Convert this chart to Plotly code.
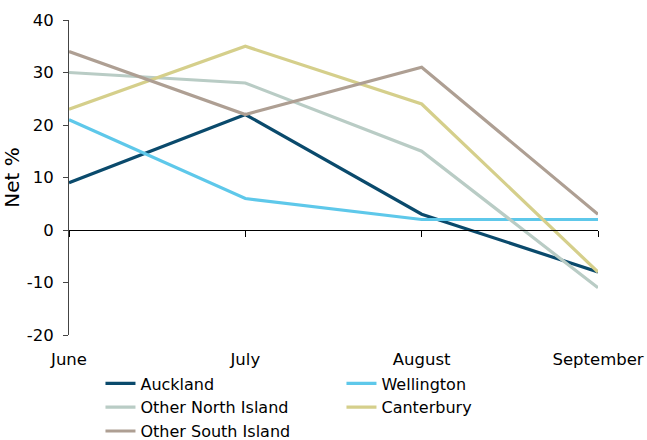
import plotly.graph_objects as go

months = ["June", "July", "August", "September"]
auckland = [9, 22, 3, -8]
wellington = [21, 6, 2, 2]
other_north = [30, 28, 15, -11]
canterbury = [23, 35, 24, -8]
other_south = [34, 22, 31, 3]
y_ticks = [-20, -10, 0, 10, 20, 30, 40]
y_tick_text = ["-20", "-10", "0", "10", "20", "30", "40"]

series = [
    ("Auckland", auckland, "#0a4a6c"),
    ("Wellington", wellington, "#5ec8ea"),
    ("Other North Island", other_north, "#b9ccc5"),
    ("Canterbury", canterbury, "#d5cf8b"),
    ("Other South Island", other_south, "#ae9f93"),
]

xs = list(range(len(months)))
fig = go.Figure()
for name, vals, col in series:
    fig.add_trace(go.Scatter(x=xs, y=vals, mode="lines", name=name,
                             line=dict(color=col, width=3.2)))

FAM = "Verdana, DejaVu Sans, sans-serif"
font = dict(family=FAM, size=16.5, color="#000")
fig.update_layout(
    width=647, height=440,
    margin=dict(l=69, r=49, t=20, b=105, autoexpand=False),
    plot_bgcolor="white", paper_bgcolor="white",
    font=font,
    showlegend=True,
    legend=dict(orientation="h", x=0.0595, xanchor="left", y=-0.1, yanchor="top",
                entrywidth=196, entrywidthmode="pixels",
                font=dict(family=FAM, size=16, color="#000"),
                tracegroupgap=0, itemwidth=30, bgcolor="rgba(0,0,0,0)"),
    xaxis=dict(range=[0, 3], tickvals=xs, ticktext=months, showgrid=False,
               zeroline=False, showline=False, ticks="", ticklabelstandoff=12),
    xaxis2=dict(range=[0, 3], tickvals=xs, overlaying="x", anchor="free",
                position=1/3, side="bottom", showline=True, linecolor="#000",
                linewidth=1, ticks="outside", ticklen=6, tickcolor="#000",
                showticklabels=False, showgrid=False, zeroline=False),
    yaxis=dict(range=[-20, 40], tickvals=y_ticks, ticktext=y_tick_text,
               showgrid=False, zeroline=False,
               showline=True, linecolor="#444", linewidth=1, ticks="outside",
               ticklen=5, tickcolor="#444", ticklabelstandoff=6,
               title=dict(text="Net %", standoff=10)),
)
# dummy trace to activate xaxis2
fig.add_trace(go.Scatter(x=[0, 3], y=[None, None], xaxis="x2", showlegend=False,
                         hoverinfo="skip"))
fig.write_html("out.html")
